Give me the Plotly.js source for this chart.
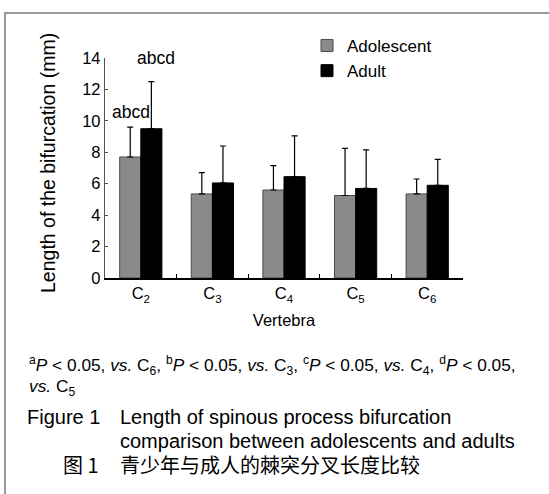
<!DOCTYPE html>
<html>
<head>
<meta charset="utf-8">
<script src="https://cdn.plot.ly/plotly-3.0.1.min.js"></script>
<style>html,body{margin:0;padding:0;background:#fff;}#chart{width:549px;height:494px;}</style>
</head>
<body>
<div id="chart"></div>
<script>
const categories = ['C<sub>2</sub>', 'C<sub>3</sub>', 'C<sub>4</sub>', 'C<sub>5</sub>', 'C<sub>6</sub>'];
const adolescentMean = [7.7, 5.35, 5.6, 5.25, 5.35];
const adolescentSD   = [1.9, 1.35, 1.55, 3.0, 0.95];
const adultMean      = [9.5, 6.05, 6.45, 5.7, 5.9];
const adultSD        = [3.0, 2.35, 2.6, 2.45, 1.65];
const seriesNames = ['Adolescent', 'Adult'];
const yTicks = [0, 2, 4, 6, 8, 10, 12, 14];

const W = 549, H = 494;
const M = {l: 105, r: 86, t: 58, b: 216};
const pw = W - M.l - M.r, ph = H - M.t - M.b;
const px = x => (x - M.l) / pw;
const py = y => (H - M.b - y) / ph;

const FONT = 'Arial, "Liberation Sans", sans-serif';
const CJK = '"Noto Sans CJK SC", sans-serif';

const traces = [
  {
    type: 'bar', name: seriesNames[0], x: categories, y: adolescentMean,
    marker: {color: '#8a8a8a', line: {color: '#4a4a4a', width: 1}},
    error_y: {type: 'data', array: adolescentSD, arrayminus: adolescentMean.map(() => 0), symmetric: false,
              color: '#000', thickness: 1.2, width: 3}
  },
  {
    type: 'bar', name: seriesNames[1], x: categories, y: adultMean,
    marker: {color: '#000', line: {color: '#000', width: 1}},
    error_y: {type: 'data', array: adultSD, arrayminus: adultMean.map(() => 0), symmetric: false,
              color: '#000', thickness: 1.2, width: 3}
  }
];

const capFont = {family: FONT, size: 20, color: '#000'};
const noteFont = {family: FONT, size: 17.3, color: '#000'};

const annotations = [
  {xref: 'paper', yref: 'paper', x: px(48), y: py(163), textangle: -90, xanchor: 'center', yanchor: 'middle',
   showarrow: false, text: 'Length of the bifurcation (mm)', font: {family: FONT, size: 19.5, color: '#000'}},
  {xref: 'x', yref: 'y', x: categories[0], y: adolescentMean[0] + adolescentSD[0], text: 'abcd',
   showarrow: false, xshift: -10, yshift: 3, yanchor: 'bottom', font: {family: FONT, size: 17.5, color: '#000'}},
  {xref: 'x', yref: 'y', x: categories[0], y: adultMean[0] + adultSD[0], text: 'abcd',
   showarrow: false, xshift: 15, yshift: 12, yanchor: 'bottom', font: {family: FONT, size: 17.5, color: '#000'}},
  {xref: 'paper', yref: 'paper', x: px(27), y: py(365), xanchor: 'left', yanchor: 'middle', showarrow: false,
   text: '<sup>a</sup><i>P</i> &lt; 0.05, <i>vs.</i> C<sub>6</sub>, <sup>b</sup><i>P</i> &lt; 0.05, <i>vs.</i> C<sub>3</sub>, <sup>c</sup><i>P</i> &lt; 0.05, <i>vs.</i> C<sub>4</sub>, <sup>d</sup><i>P</i> &lt; 0.05,',
   font: noteFont},
  {xref: 'paper', yref: 'paper', x: px(27), y: py(387), xanchor: 'left', yanchor: 'middle', showarrow: false,
   text: '<i>vs.</i> C<sub>5</sub>', font: noteFont},
  {xref: 'paper', yref: 'paper', x: px(25), y: py(417), xanchor: 'left', yanchor: 'middle', showarrow: false,
   text: 'Figure 1', font: capFont},
  {xref: 'paper', yref: 'paper', x: px(118), y: py(417), xanchor: 'left', yanchor: 'middle', showarrow: false,
   text: 'Length of spinous process bifurcation', font: capFont},
  {xref: 'paper', yref: 'paper', x: px(118), y: py(441), xanchor: 'left', yanchor: 'middle', showarrow: false,
   text: 'comparison between adolescents and adults', font: capFont},
  {xref: 'paper', yref: 'paper', x: px(61), y: py(464), xanchor: 'left', yanchor: 'middle', showarrow: false,
   text: '图 1', font: {family: CJK, size: 20, color: '#000'}},
  {xref: 'paper', yref: 'paper', x: px(118), y: py(464), xanchor: 'left', yanchor: 'middle', showarrow: false,
   text: '青少年与成人的棘突分叉长度比较', font: {family: CJK, size: 20, color: '#000'}}
];

const layout = {
  width: W, height: H,
  margin: M,
  paper_bgcolor: '#fff', plot_bgcolor: '#fff',
  font: {family: FONT, size: 16, color: '#000'},
  barmode: 'group', bargap: 0.41, bargroupgap: 0,
  showlegend: true,
  legend: {x: px(307), y: py(28), xanchor: 'left', yanchor: 'top', bgcolor: 'rgba(0,0,0,0)',
           font: {family: FONT, size: 17, color: '#000'}, tracegroupgap: 0, itemwidth: 30},
  xaxis: {
    type: 'category', showline: true, linecolor: '#000', linewidth: 1.5,
    ticks: 'inside', tickson: 'boundaries', ticklen: 4, tickcolor: '#000',
    showgrid: false, zeroline: false, tickfont: {family: FONT, size: 16.5, color: '#000'},
    title: {text: 'Vertebra', font: {family: FONT, size: 16.5, color: '#000'}, standoff: 10}
  },
  yaxis: {
    range: [0, 14], tickvals: yTicks, showline: true, linecolor: '#555', linewidth: 1.2,
    ticks: 'inside', ticklen: 3, tickcolor: '#555', showgrid: false, zeroline: false,
    tickfont: {family: FONT, size: 16.5, color: '#000'}
  },
  shapes: [
    {type: 'rect', xref: 'paper', yref: 'paper', x0: px(5), x1: px(W + 20), y0: py(H + 20), y1: py(13),
     line: {color: '#999', width: 2}, fillcolor: 'rgba(0,0,0,0)', layer: 'below'}
  ],
  annotations: annotations
};

Plotly.newPlot('chart', traces, layout, {displayModeBar: false, staticPlot: true});
</script>
</body>
</html>
